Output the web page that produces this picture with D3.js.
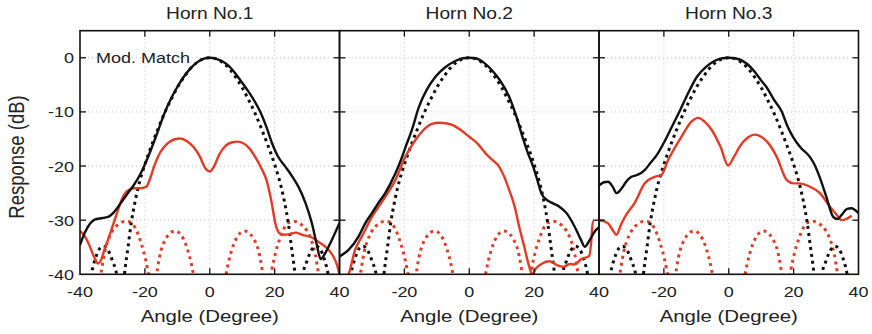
<!DOCTYPE html>
<html>
<head>
<meta charset="utf-8">
<script src="https://cdn.jsdelivr.net/npm/d3@7"></script>
<style>
  body { margin: 0; background: #fff; }
  text { font-family: "Liberation Sans", Arial, sans-serif; fill: #222; }
</style>
</head>
<body>
<svg id="chart" width="872" height="334"></svg>
<script>
// ---- data (angle in degree, response in dB) ----
const hornTitles = ["Horn No.1", "Horn No.2", "Horn No.3"];
const angleTicks = [-40, -20, 0, 20, 40];
const dbTicks = [0, -10, -20, -30, -40];
const gridAngles = [-20, 0, 20];
const gridDb = [0, -10, -20, -30];

// simulated co-pol (black dotted), same for all horns
const simCo = [[-40,-52],[-37.5,-44],[-36.5,-40],[-35.2,-37],[-34,-35.3],[-32.7,-34.8],[-31.3,-35.6],[-30,-37.5],[-28.6,-40.5],[-27.5,-48],[-26.3,-40],[-25.2,-35],[-24.2,-30.5],[-23,-26.5],[-22,-23.8],[-20,-19.7],[-18,-16.3],[-16,-13.2],[-14,-10.3],[-12,-7.8],[-10,-5.5],[-8,-3.6],[-6,-2.0],[-4,-0.9],[-2,-0.2],[0,0],
  [2,-0.2],[4,-0.9],[6,-2.0],[8,-3.6],[10,-5.5],[12,-7.8],[14,-10.3],[16,-13.2],[18,-16.3],[20,-19.7],[22,-23.8],[23,-26.5],[24.2,-30.5],[25.2,-35],[26.3,-40],[27.5,-48],[28.6,-40.5],[30,-37.5],[31.3,-35.6],[32.7,-34.8],[34,-35.3],[35.2,-37],[36.5,-40],[37.5,-44],[40,-52]];

// simulated cross-pol (red dotted), same for all horns
const simCross = [[-40,-60],[-35,-46],[-34,-41.5],[-33.3,-39],[-32.5,-36.2],[-31.5,-34],[-30,-32],[-28,-30.7],[-26,-30.2],[-24.5,-30.4],[-23,-31.4],[-21.5,-33.6],[-20.3,-36],[-19.2,-39],[-18.3,-42.5],[-17.6,-55],[-16.8,-42.5],[-16,-38.6],[-15,-35.6],[-13.5,-33.4],[-12,-32.3],[-10.8,-32],[-9.5,-32.3],[-8,-33.6],[-6.8,-35.5],[-5.7,-38],[-4.8,-40.8],[-3.8,-45],[0,-60],
  [3.8,-45],[4.8,-40.8],[5.7,-38],[6.8,-35.5],[8,-33.6],[9.5,-32.3],[10.8,-32],[12,-32.3],[13.5,-33.4],[15,-35.6],[16,-38.6],[16.8,-42.5],[17.6,-55],[18.3,-42.5],[19.2,-39],[20.3,-36],[21.5,-33.6],[23,-31.4],[24.5,-30.4],[26,-30.2],[28,-30.7],[30,-32],[31.5,-34],[32.5,-36.2],[33.3,-39],[34,-41.5],[35,-46],[40,-60]];

// measured co-pol (black solid)
const horn1Co = [[-40,-34.6],[-38.5,-32.3],[-37,-30.7],[-35.5,-29.9],[-33,-29.6],[-31,-29.3],[-29.5,-28.5],[-27.5,-26.9],[-25.5,-25.2],[-23.5,-23.6],[-21.5,-21.6],[-20,-19.7],[-18,-16.8],[-16,-13.6],[-14,-10.3],[-12,-7.6],[-10,-5.4],[-8,-3.5],[-6,-2.0],[-4,-0.9],[-2,-0.2],[0,0],
  [2,-0.2],[4,-0.7],[6,-1.6],[8,-3.0],[10,-4.6],[12,-6.3],[14,-8.2],[15.6,-10],[17.5,-12.8],[19.2,-15.8],[21,-18.2],[23.3,-20.1],[25.5,-22],[27.4,-23.9],[29.5,-26.8],[31.5,-30.6],[33,-34.5],[34.2,-37.2],[35.5,-36.2],[37.2,-34.2],[40,-30.5]];
const horn2Co = [[-40,-36.7],[-37.2,-35.5],[-34.1,-33],[-32,-30.5],[-30,-28.7],[-28,-26.8],[-25.9,-25],[-22.8,-21.4],[-21,-18.8],[-19.7,-16.6],[-17.5,-13],[-15.6,-9.2],[-13,-5.8],[-10.4,-3.5],[-7.5,-1.8],[-4.3,-0.6],[-2,-0.1],[0,0],
  [2,-0.1],[4.5,-0.9],[7,-2.3],[9.5,-4.2],[12.3,-7.2],[14.5,-10.8],[16.4,-14.6],[18.2,-17.8],[19.7,-20.1],[21,-22.6],[22.2,-25],[23.8,-26.2],[25.8,-26.9],[28,-27.6],[30,-28.7],[31.6,-30.2],[33,-31.8],[34.4,-33.6],[35.6,-34.9],[37.1,-33.7],[38.7,-32.1],[40,-31.3]];
const horn3Co = [[-40,-23.6],[-38.5,-23],[-37.2,-22.9],[-35.8,-23.8],[-34.6,-25],[-33.2,-24.3],[-31.5,-22.8],[-30,-22],[-28,-21.6],[-26,-20.8],[-24.2,-19.5],[-22,-17.8],[-20.1,-15.8],[-17.5,-12.7],[-15,-9.7],[-12.5,-6.5],[-9.8,-3.5],[-7,-1.7],[-4.7,-0.7],[-2,-0.1],[0,0],
  [2,-0.1],[5.4,-1],[8,-2.6],[10,-4.2],[11.6,-5.4],[14,-7.8],[16.4,-10],[18,-12.5],[19.8,-14.6],[22,-16.5],[25,-18.3],[26.5,-19.8],[28,-22],[30,-25.5],[32.2,-29.4],[33.5,-29.8],[34.7,-29.1],[36.5,-27.9],[37.8,-27.8],[40,-28.7]];

// measured cross-pol (red solid)
const horn1Cross = [[-40,-32],[-38.5,-33],[-37,-34.8],[-35.5,-37],[-34.4,-38],[-33.4,-37.2],[-32.5,-35.5],[-31,-33],[-29.5,-30.3],[-28.5,-28.5],[-27,-26],[-25.6,-24.7],[-23.5,-24.1],[-21.5,-24.1],[-19.5,-23.8],[-18.5,-22.5],[-17,-19.8],[-15.3,-17.5],[-13,-15.8],[-11,-15.1],[-9,-14.9],[-7,-15.4],[-5,-16.5],[-3,-18.3],[-1.5,-20.3],[0,-21],[1.2,-20.2],[3,-17.8],[5,-16.2],[7,-15.6],[8.5,-15.5],[10,-15.7],[12,-16.6],[14,-18.3],[16,-20.5],[17.5,-22.6],[19,-26.5],[20.3,-30.8],[21.5,-32.4],[23,-32.7],[25,-32.5],[26.5,-32.3],[28.5,-32.7],[31.5,-33.2],[34,-34.2],[36,-35.1],[38,-36.6],[39.2,-38.2],[40,-40]];
const horn2Cross = [[-40,-42],[-37.2,-40],[-35.2,-35.5],[-33.1,-33],[-30,-29.4],[-25.9,-25.7],[-22.8,-22.6],[-19.7,-18.3],[-16.6,-15.2],[-13.5,-13],[-11.5,-12.2],[-9.3,-12],[-7.3,-12.1],[-5.3,-12.4],[-2.5,-13.4],[0,-14.6],[2.5,-15.8],[5.1,-17.7],[7.2,-18.9],[9.2,-20.1],[10.8,-22],[12.3,-24.4],[14,-27.5],[15.4,-31.2],[17,-35],[18.5,-38.6],[19.4,-40],[20.6,-38.9],[22.5,-38],[24.8,-37.6],[27,-38.3],[29,-38.6],[31,-38.1],[32.4,-38.2],[34.5,-37.2],[37,-36.6],[37.6,-34],[38.1,-30.3],[38.4,-30.3]];
const horn3Cross = [[-40,-30],[-38.5,-30.2],[-37.2,-30.6],[-35.8,-31.8],[-34.6,-32.7],[-33.2,-30.8],[-32,-29.4],[-29,-26.8],[-25.9,-23.2],[-22.8,-22],[-20.8,-21.7],[-18.7,-18.9],[-14.6,-14.6],[-11.5,-11.8],[-9.4,-11.1],[-7.5,-11.8],[-5.3,-13.3],[-2.5,-16.5],[-0.2,-19.9],[1.5,-18.4],[3.5,-16.3],[6,-14.7],[8.1,-14.2],[10,-14.6],[11.8,-15.5],[14.8,-18.3],[17.9,-22.6],[20,-23.2],[21.5,-23.2],[25,-23.8],[28.1,-25],[31.2,-27.5],[33,-28.8],[34.8,-30],[36.5,-29.7],[37.9,-29.2]];

const horns = [
  {co: horn1Co, cross: horn1Cross},
  {co: horn2Co, cross: horn2Cross},
  {co: horn3Co, cross: horn3Cross}
];

// ---- layout ----
const svg = d3.select("#chart");
const panelLeft = 80, panelStep = 259.5, panelWidth = 259.5;
const plotTop = 30.7, plotBottom = 274.3;
const sx = 1.2;          // the reference typography is horizontally stretched
const red = "#e43b26", black = "#111";

const y = d3.scaleLinear().domain([-40, 5]).range([plotBottom, plotTop]);

function label(sel, x, yy, txt, size, anchor) {
  return sel.append("text")
    .attr("transform", `translate(${x},${yy}) scale(${sx},1)`)
    .attr("text-anchor", anchor)
    .style("font-size", size + "px")
    .text(txt);
}

horns.forEach((h, i) => {
  const x0 = panelLeft + i * panelStep;
  const x = d3.scaleLinear().domain([-40, 40]).range([x0, x0 + panelWidth]);
  const g = svg.append("g");

  svg.append("clipPath").attr("id", "clip" + i)
    .append("rect").attr("x", x0).attr("y", plotTop).attr("width", panelWidth).attr("height", plotBottom - plotTop);

  // grid
  g.selectAll(".gx").data(gridAngles).join("line")
    .attr("x1", d => x(d)).attr("x2", d => x(d)).attr("y1", plotTop).attr("y2", plotBottom)
    .attr("stroke", "#c4c4c4").attr("stroke-width", 1).attr("stroke-dasharray", "1,3");
  g.selectAll(".gy").data(gridDb).join("line")
    .attr("x1", x0).attr("x2", x0 + panelWidth).attr("y1", d => y(d)).attr("y2", d => y(d))
    .attr("stroke", "#c4c4c4").attr("stroke-width", 1).attr("stroke-dasharray", "1,3");

  const line = d3.line().x(d => x(d[0])).y(d => y(d[1])).curve(d3.curveMonotoneX);
  const curves = g.append("g").attr("clip-path", `url(#clip${i})`);
  curves.append("path").attr("d", line(simCross)).attr("fill", "none")
    .attr("stroke", red).attr("stroke-width", 3).attr("stroke-dasharray", "3,4");
  curves.append("path").attr("d", line(simCo)).attr("fill", "none")
    .attr("stroke", black).attr("stroke-width", 3).attr("stroke-dasharray", "3,4");
  curves.append("path").attr("d", line(h.cross)).attr("fill", "none")
    .attr("stroke", red).attr("stroke-width", 2.4).attr("stroke-linejoin", "round");
  curves.append("path").attr("d", line(h.co)).attr("fill", "none")
    .attr("stroke", black).attr("stroke-width", 2.4).attr("stroke-linejoin", "round");

  // inward ticks on all four sides
  const tl = 6;
  const ticks = g.append("g").attr("stroke", black).attr("stroke-width", 1.3);
  gridAngles.forEach(a => {
    ticks.append("line").attr("x1", x(a)).attr("x2", x(a)).attr("y1", plotTop).attr("y2", plotTop + tl);
    ticks.append("line").attr("x1", x(a)).attr("x2", x(a)).attr("y1", plotBottom).attr("y2", plotBottom - tl);
  });
  dbTicks.slice(0, 4).forEach(v => {
    ticks.append("line").attr("x1", x0).attr("x2", x0 + tl).attr("y1", y(v)).attr("y2", y(v));
    ticks.append("line").attr("x1", x0 + panelWidth).attr("x2", x0 + panelWidth - tl).attr("y1", y(v)).attr("y2", y(v));
  });

  // frame
  g.append("rect").attr("x", x0).attr("y", plotTop).attr("width", panelWidth).attr("height", plotBottom - plotTop)
    .attr("fill", "none").attr("stroke", black).attr("stroke-width", 1.6);

  // x tick labels (the shared -40 is only drawn on the first panel)
  angleTicks.filter(a => i === 0 || a !== -40).forEach(a => {
    label(svg, x(a), 296.5, a, 15, "middle");
  });
  label(svg, x(0), 19, hornTitles[i], 16, "middle");
  label(svg, x(0), 322, "Angle (Degree)", 17, "middle");
});

// y tick labels
dbTicks.forEach(v => {
  label(svg, 74, y(v) + 5.5, v, 15, "end");
});

svg.append("text")
  .attr("transform", `translate(24,157) rotate(-90) scale(1,${sx})`)
  .attr("text-anchor", "middle")
  .style("font-size", "18.5px")
  .text("Response (dB)");

label(svg, 96, 63, "Mod. Match", 15, "start");
</script>
</body>
</html>
